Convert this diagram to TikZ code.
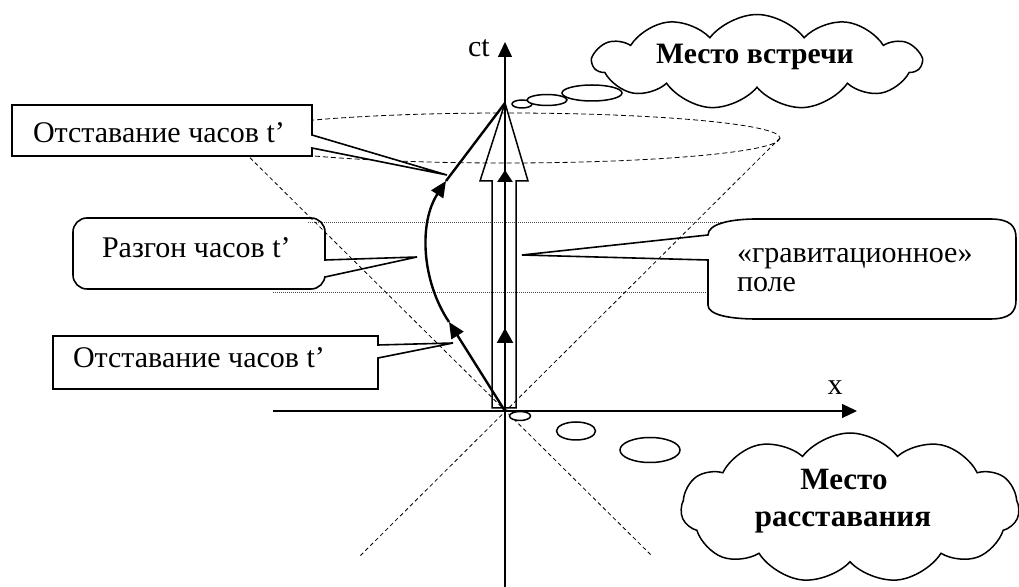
\documentclass[tikz,border=0pt]{standalone}
\usepackage{fontspec}
\setmainfont{Liberation Serif}
\usetikzlibrary{shapes.symbols,arrows.meta}
\begin{document}
\begin{tikzpicture}[x=0.5pt,y=-0.5pt,
  every node/.style={inner sep=0pt, outer sep=0pt},
  lbl/.style={font=\fontsize{15}{15}\selectfont, anchor=base west},
  boldlbl/.style={font=\fontsize{15.5}{15.5}\selectfont\bfseries, anchor=base},
  box/.style={line width=0.8pt},
  axis/.style={line width=0.6pt, -{Triangle[length=7.5pt,width=7pt]}},
  cone/.style={line width=0.4pt, dash pattern=on 2pt off 1.5pt},
  level/.style={line width=0.35pt, dash pattern=on 0.5pt off 0.5pt, black!70},
  world/.style={line width=1.2pt},
  wtip/.style={-{Triangle[length=8pt,width=7pt]}},
  bubble/.style={draw, line width=0.75pt, fill=white},
  thought/.style={cloud, draw, line width=0.75pt, fill=white, cloud puffs=11, cloud puff arc=105},
]
\useasboundingbox (0,0) rectangle (1019,587);
% key points
\coordinate (O) at (505,411);
\coordinate (M) at (505,103);
\coordinate (EL) at (230,138);
\coordinate (ER) at (780,138);
\coordinate (C1) at (652,556);
\coordinate (C2) at (360,556);
% light cone and levels
\draw[cone, dash pattern=on 2.5pt off 1.5pt] (505,138) ellipse [x radius=275, y radius=25];
\draw[cone] (EL) -- (C1);
\draw[cone] (ER) -- (C2);
\draw[level] (308,222) -- (724,222);
\draw[level] (273,292) -- (708,292);
% callouts
\draw[box, fill=white] (12,105) -- (312,105) -- (312,135) -- (447,175) -- (312,148) -- (312,156) -- (12,156) -- cycle;
\draw[box, rounded corners=7pt] (73,218) rectangle (325,289);
\fill[white] (323,261) rectangle (327,276);
\draw[box] (325,260) -- (417,257) -- (325,277);
\draw[box] (53,336) -- (378,336) -- (378,345) -- (453,343) -- (378,358) -- (378,389) -- (53,389) -- cycle;
\draw[box] (708,260) -- (708,305) .. controls (708,315) and (730,319) .. (757,319) -- (990,319)
  .. controls (1010,319) and (1016,312) .. (1016,300) -- (1016,238)
  .. controls (1016,226) and (1010,219) .. (990,219) -- (757,219)
  .. controls (730,219) and (708,224) .. (708,235) -- (522,255) -- cycle;
% axes
\coordinate (XL) at (273,411);
\coordinate (XR) at (857,411);
\coordinate (YB) at (505,587);
\coordinate (YT) at (505,42);
\draw[axis] (XL) -- (XR);
\draw[axis] (YB) -- (YT);
% hollow arrow
\draw[line width=0.75pt] (492,408) -- (492,181) -- (480,181) -- (M) -- (528,181) -- (516,181) -- (516,408) -- cycle;
% thick vertical worldline
\coordinate (V1) at (505,328);
\coordinate (V2) at (505,170);
\draw[world, -{Triangle[length=7.5pt,width=8pt]}] (O) -- (V1);
\draw[world, -{Triangle[length=6pt,width=7.5pt]}] (V1) -- (V2);
% curved worldline
\coordinate (P1) at (449,322);
\coordinate (P2) at (446,181);
\draw[world, wtip] (O) -- (P1);
\draw[world, wtip] (P1) .. controls (421,280) and (419,222) .. (P2);
\draw[world] (P2) -- (M);
% labels
\node[lbl] (ct) at (468,57) {ct};
\node[lbl, anchor=base] (xl) at (835,395) {x};
\node[lbl] (t1) at (33,143) {Отставание часов t’};
\node[lbl] (t2) at (102,258) {Разгон часов t’};
\node[lbl] (t3) at (73,368) {Отставание часов t’};
\node[lbl] (g1) at (737,263) {«гравитационное»};
\node[lbl] (g2) at (737,292) {поле};
% meeting cloud
\draw[bubble] (522,104) ellipse [x radius=10, y radius=4];
\draw[bubble] (547,100) ellipse [x radius=20, y radius=5.5];
\node[thought, minimum width=164pt, minimum height=47.5pt, aspect=3.4] (c1) at (757,62) {};
\draw[bubble] (592,93) ellipse [x radius=30, y radius=8];
\node[boldlbl, font=\fontsize{14.8}{14.8}\selectfont\bfseries] (c1t) at (755,64) {Место встречи};
% parting cloud
\draw[bubble] (520,416) ellipse [x radius=10.5, y radius=4.5];
\draw[bubble] (576,431) ellipse [x radius=19.5, y radius=9];
\draw[bubble] (650,450) ellipse [x radius=30, y radius=12.5];
\node[thought, minimum width=169pt, minimum height=75pt, aspect=2.3] (c2) at (850,508) {};
\node[boldlbl] (c2a) at (844,490) {Место};
\node[boldlbl] (c2b) at (843,527) {расставания};
\end{tikzpicture}
\end{document}
